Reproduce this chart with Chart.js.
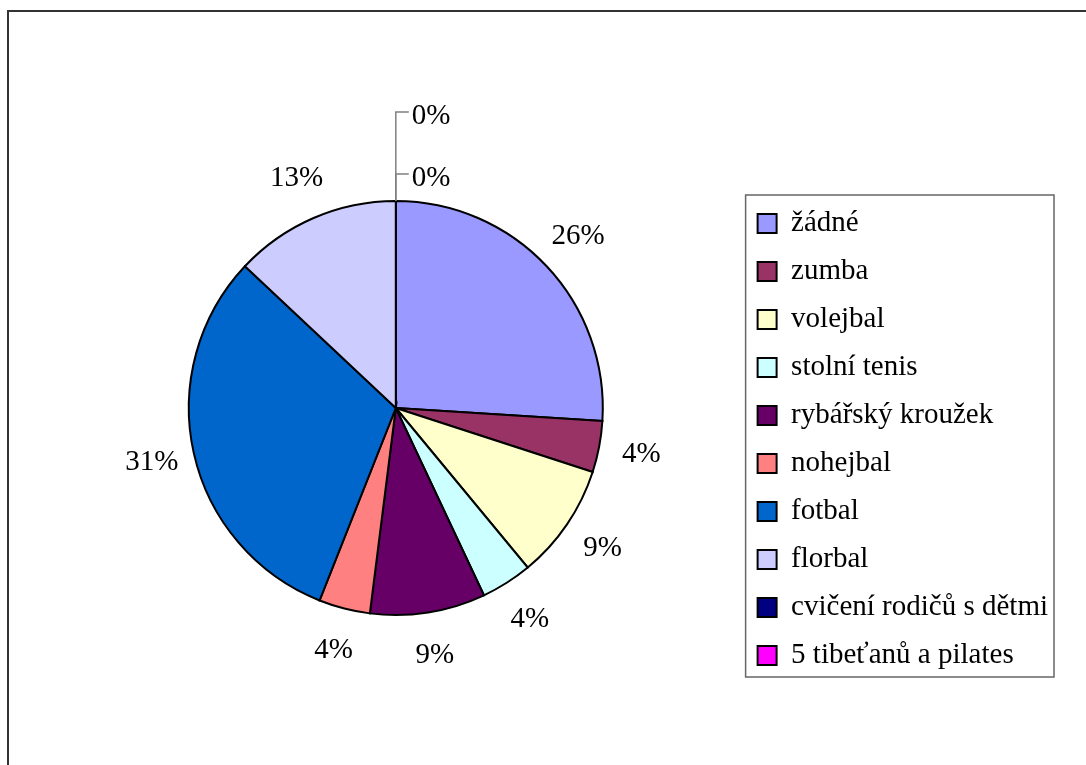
<!DOCTYPE html>
<html>
<head>
<meta charset="utf-8">
<script src="https://cdn.jsdelivr.net/npm/chart.js@4.4.0/dist/chart.umd.min.js"></script>
<style>
  html, body { margin: 0; padding: 0; background: #fff; }
  #wrap { position: absolute; left: 0; top: 0; width: 1086px; height: 765px; }
</style>
</head>
<body>
<div id="wrap"><canvas id="pieChart" width="1086" height="765"></canvas></div>
<script>
// Categories and shares in percent
const categories = ['žádné', 'zumba', 'volejbal', 'stolní tenis', 'rybářský kroužek',
    'nohejbal', 'fotbal', 'florbal', 'cvičení rodičů s dětmi', '5 tibeťanů a pilates'];
const shares = [26, 4, 9, 4, 9, 4, 31, 13, 0, 0];
const sliceColors = ['#9999FF', '#993366', '#FFFFCC', '#CCFFFF', '#660066',
    '#FF8080', '#0066CC', '#CCCCFF', '#000080', '#FF00FF'];

const FONT = '"Liberation Serif", "Times New Roman", serif';

// Outer frame (only top and left edges are visible in the picture)
const framePlugin = {
    id: 'frame',
    beforeDraw(chart) {
        const c = chart.ctx;
        c.save();
        c.strokeStyle = '#333';
        c.lineWidth = 2;
        c.beginPath();
        c.moveTo(8, 765);
        c.lineTo(8, 11);
        c.lineTo(1086, 11);
        c.stroke();
        c.restore();
    }
};

// Box around the legend
const legendBoxPlugin = {
    id: 'legendBox',
    afterDraw(chart) {
        const hb = chart.legend.legendHitBoxes;
        if (!hb || !hb.length) return;
        const maxW = Math.max(...hb.map(h => h.width));
        const left = hb[0].left - 12;
        const top = hb[0].top - 14;
        const right = hb[0].left + maxW + 6;
        const last = hb[hb.length - 1];
        const bottom = last.top + last.height + 7;
        const c = chart.ctx;
        c.save();
        c.strokeStyle = '#666';
        c.lineWidth = 1.5;
        c.strokeRect(left, top, right - left, bottom - top);
        c.restore();
    }
};

// Percentage labels outside the pie, with leader lines for the zero slices
const pctLabelPlugin = {
    id: 'pctLabels',
    afterDatasetsDraw(chart) {
        const meta = chart.getDatasetMeta(0);
        const data = chart.data.datasets[0].data;
        const total = data.reduce((a, b) => a + b, 0);
        const c = chart.ctx;
        c.save();
        c.font = '29px ' + FONT;
        c.fillStyle = '#000';
        let zeroIdx = 0;
        meta.data.forEach((arc, i) => {
            const p = arc.getProps(['x', 'y', 'startAngle', 'endAngle', 'outerRadius'], true);
            const txt = Math.round(data[i] / total * 100) + '%';
            if (data[i] > 0) {
                const mid = (p.startAngle + p.endAngle) / 2;
                const d = p.outerRadius + 43;
                c.textAlign = 'center';
                c.textBaseline = 'middle';
                c.fillText(txt, p.x + Math.cos(mid) * d, p.y + Math.sin(mid) * d);
            } else {
                const topY = p.y - p.outerRadius;
                const ty = topY - 27 - 62 * zeroIdx;
                c.strokeStyle = '#808080';
                c.lineWidth = 1.5;
                c.beginPath();
                c.moveTo(p.x, topY);
                c.lineTo(p.x, ty);
                c.lineTo(p.x + 13, ty);
                c.stroke();
                c.textAlign = 'left';
                c.textBaseline = 'middle';
                c.fillText(txt, p.x + 16, ty + 4);
                zeroIdx++;
            }
        });
        c.restore();
    }
};

const ctx = document.getElementById('pieChart').getContext('2d');
const pieChart = new Chart(ctx, {
    type: 'pie',
    data: {
        labels: categories,
        datasets: [{
            data: shares,
            backgroundColor: sliceColors,
            borderColor: '#000',
            borderWidth: 2,
            borderJoinStyle: 'miter'
        }]
    },
    options: {
        responsive: false,
        animation: false,
        devicePixelRatio: 1,
        radius: 207,
        layout: {
            padding: { left: 53, top: 127, bottom: 76, right: 28 }
        },
        plugins: {
            tooltip: { enabled: false },
            legend: {
                position: 'right',
                align: 'end',
                labels: {
                    boxWidth: 19,
                    boxHeight: 19,
                    padding: 19,
                    color: '#000',
                    font: { family: FONT, size: 29 },
                    generateLabels(chart) {
                        const items = Chart.overrides.pie.plugins.legend.labels.generateLabels(chart);
                        items.forEach(it => { it.lineWidth = 2; it.hidden = false; });
                        return items;
                    }
                }
            }
        }
    },
    plugins: [framePlugin, legendBoxPlugin, pctLabelPlugin]
});
</script>
</body>
</html>
